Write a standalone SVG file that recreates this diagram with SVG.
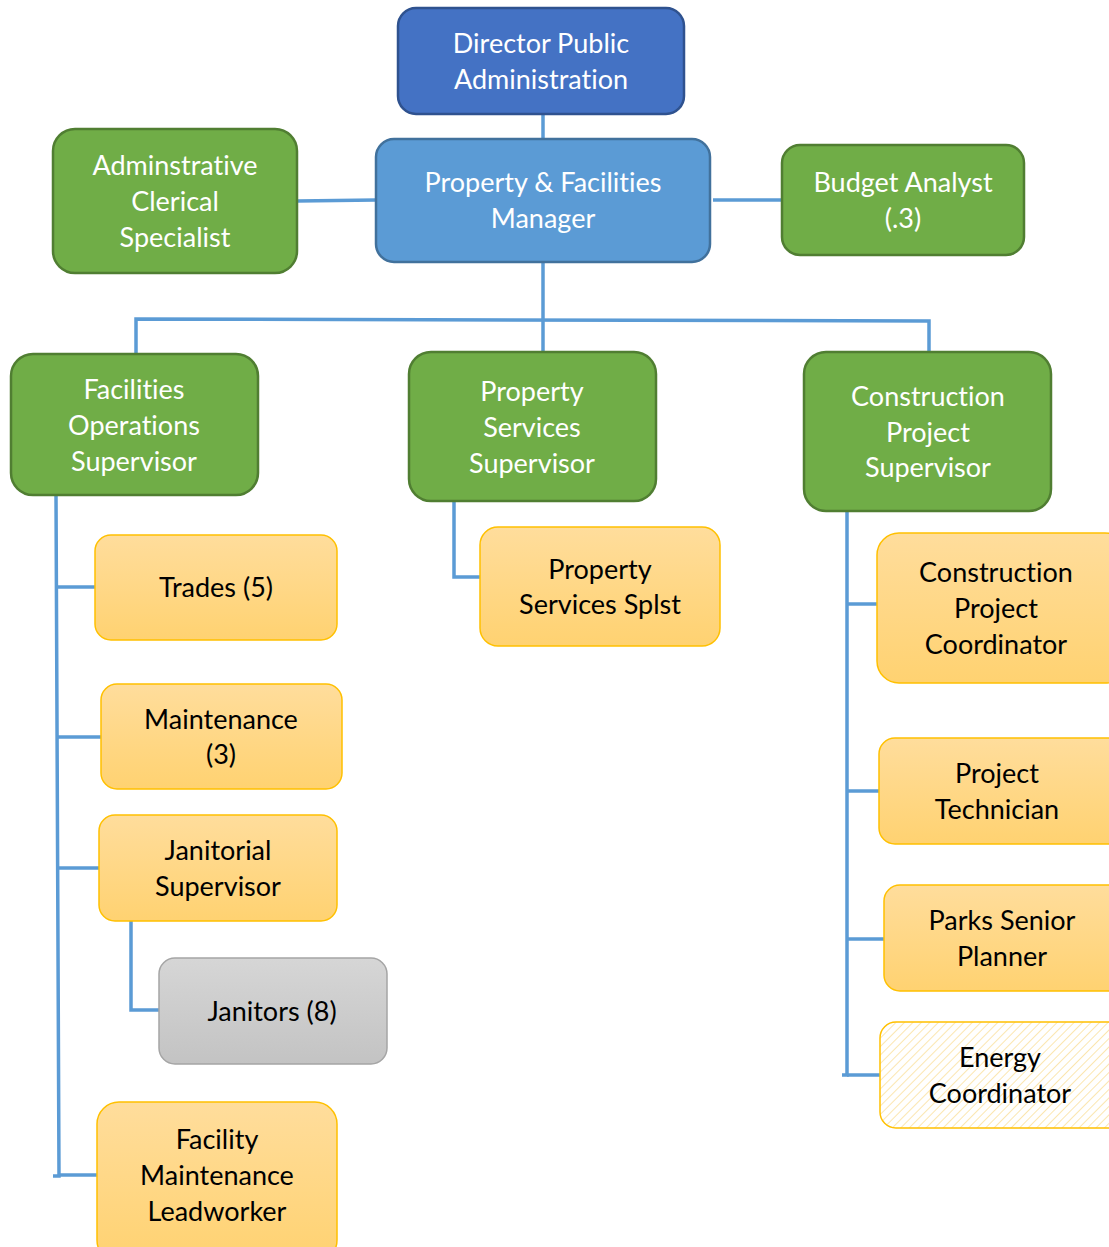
<svg xmlns="http://www.w3.org/2000/svg" width="1109" height="1247" viewBox="0 0 1109 1247">
<defs>
<linearGradient id="gOr" x1="0" y1="0" x2="0" y2="1"><stop offset="0" stop-color="#FFDD9C"/><stop offset="1" stop-color="#FFD271"/></linearGradient>
<linearGradient id="gGr" x1="0" y1="0" x2="0" y2="1"><stop offset="0" stop-color="#D6D6D6"/><stop offset="1" stop-color="#C3C3C3"/></linearGradient>
<pattern id="hatch" width="6" height="6" patternUnits="userSpaceOnUse" patternTransform="rotate(45)"><rect width="6" height="6" fill="#FFFFFF"/><line x1="0" y1="0" x2="0" y2="6" stroke="#FBE6B0" stroke-width="2"/></pattern>
</defs>
<style>
.t{font-family:Lato,"Open Sans","Liberation Sans",sans-serif;font-size:27px;text-anchor:middle;font-variant-ligatures:none}
.w{fill:#FFFFFF}.k{fill:#000000}
.blue1{fill:#4472C4;stroke:#2F528F;stroke-width:2.5}
.blue2{fill:#5B9BD5;stroke:#41719C;stroke-width:2.5}
.green{fill:#70AD47;stroke:#507E32;stroke-width:2.5}
.orange{fill:url(#gOr);stroke:#FFC000;stroke-width:1.5}
.gray{fill:url(#gGr);stroke:#A5A5A5;stroke-width:1.5}
.hatched{fill:url(#hatch);stroke:#FFC000;stroke-width:1.5}
.c{fill:none;stroke:#5B9BD5;stroke-width:3.5}
</style>
<rect width="1109" height="1247" fill="#FFFFFF"/>
<g id="connectors">
<line class="c" x1="543" y1="114" x2="543" y2="139"/>
<line class="c" x1="297" y1="201" x2="376" y2="200"/>
<line class="c" x1="713" y1="200" x2="782" y2="200"/>
<line class="c" x1="543" y1="262" x2="543" y2="352"/>
<polyline class="c" points="136,354 136,319 929,321 929,352"/>
<polyline class="c" points="56,495 59,1176 53,1176"/>
<line class="c" x1="57" y1="587" x2="95" y2="587"/>
<line class="c" x1="58" y1="737" x2="101" y2="737"/>
<line class="c" x1="58" y1="868" x2="99" y2="868"/>
<line class="c" x1="59" y1="1175" x2="97" y2="1175"/>
<polyline class="c" points="131,921 131,1010 159,1010"/>
<polyline class="c" points="454,501 454,577 480,577"/>
<polyline class="c" points="847,511 847,1075 842,1075"/>
<line class="c" x1="847" y1="604" x2="877" y2="604"/>
<line class="c" x1="847" y1="791" x2="879" y2="791"/>
<line class="c" x1="847" y1="939" x2="884" y2="939"/>
<line class="c" x1="847" y1="1075" x2="880" y2="1075"/>
</g>
<g id="director"><rect class="blue1" x="398" y="8" width="286" height="106" rx="18"/><text class="t w" x="541" y="53">Director Public</text><text class="t w" x="541" y="89">Administration</text></g>
<g id="manager"><rect class="blue2" x="376" y="139" width="334" height="123" rx="18"/><text class="t w" x="543" y="192">Property &amp; Facilities</text><text class="t w" x="543" y="228">Manager</text></g>
<g id="admin"><rect class="green" x="53" y="129" width="244" height="144" rx="22"/><text class="t w" x="175" y="175">Adminstrative</text><text class="t w" x="175" y="211">Clerical</text><text class="t w" x="175" y="247">Specialist</text></g>
<g id="budget"><rect class="green" x="782" y="145" width="242" height="110" rx="18"/><text class="t w" x="903" y="192">Budget Analyst</text><text class="t w" x="903" y="228">(.3)</text></g>
<g id="facops"><rect class="green" x="11" y="354" width="247" height="141" rx="22"/><text class="t w" x="134" y="399">Facilities</text><text class="t w" x="134" y="435">Operations</text><text class="t w" x="134" y="471">Supervisor</text></g>
<g id="propsup"><rect class="green" x="409" y="352" width="247" height="149" rx="22"/><text class="t w" x="532" y="401">Property</text><text class="t w" x="532" y="437">Services</text><text class="t w" x="532" y="473">Supervisor</text></g>
<g id="constsup"><rect class="green" x="804" y="352" width="247" height="159" rx="22"/><text class="t w" x="928" y="406">Construction</text><text class="t w" x="928" y="442">Project</text><text class="t w" x="928" y="477">Supervisor</text></g>
<g id="trades"><rect class="orange" x="95" y="535" width="242" height="105" rx="16"/><text class="t k" x="216" y="597">Trades (5)</text></g>
<g id="maint"><rect class="orange" x="101" y="684" width="241" height="105" rx="16"/><text class="t k" x="221" y="729">Maintenance</text><text class="t k" x="221" y="764">(3)</text></g>
<g id="janisup"><rect class="orange" x="99" y="815" width="238" height="106" rx="16"/><text class="t k" x="218" y="860">Janitorial</text><text class="t k" x="218" y="896">Supervisor</text></g>
<g id="janitors"><rect class="gray" x="159" y="958" width="228" height="106" rx="16"/><text class="t k" x="272" y="1021">Janitors (8)</text></g>
<g id="leadworker"><rect class="orange" x="97" y="1102" width="240" height="160" rx="22"/><text class="t k" x="217" y="1149">Facility</text><text class="t k" x="217" y="1185">Maintenance</text><text class="t k" x="217" y="1221">Leadworker</text></g>
<g id="propsplst"><rect class="orange" x="480" y="527" width="240" height="119" rx="18"/><text class="t k" x="600" y="579">Property</text><text class="t k" x="600" y="614">Services Splst</text></g>
<g id="cpc"><rect class="orange" x="877" y="533" width="250" height="150" rx="22"/><text class="t k" x="996" y="582">Construction</text><text class="t k" x="996" y="618">Project</text><text class="t k" x="996" y="654">Coordinator</text></g>
<g id="tech"><rect class="orange" x="879" y="738" width="248" height="106" rx="16"/><text class="t k" x="997" y="783">Project</text><text class="t k" x="997" y="819">Technician</text></g>
<g id="parks"><rect class="orange" x="884" y="885" width="243" height="106" rx="16"/><text class="t k" x="1002" y="930">Parks Senior</text><text class="t k" x="1002" y="966">Planner</text></g>
<g id="energy"><rect class="hatched" x="880" y="1022" width="247" height="106" rx="16"/><text class="t k" x="1000" y="1067">Energy</text><text class="t k" x="1000" y="1103">Coordinator</text></g>
</svg>
